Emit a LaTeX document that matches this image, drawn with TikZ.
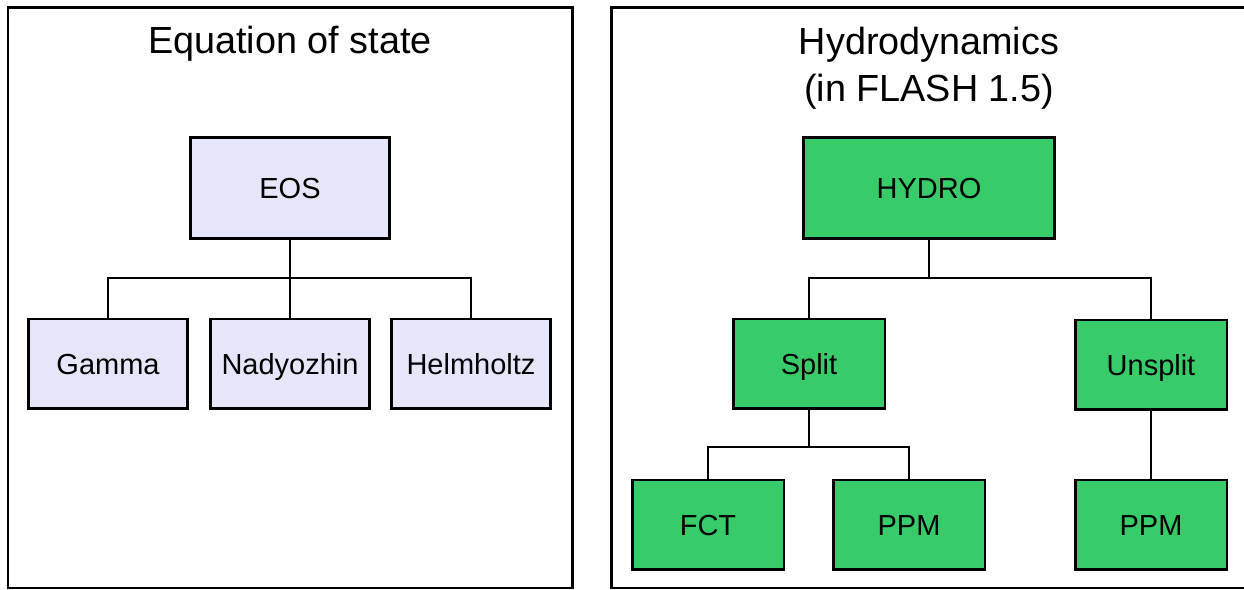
\documentclass[tikz,border=0pt]{standalone}
\usepackage{fontspec}
\setmainfont{Liberation Sans}
\definecolor{eosfill}{HTML}{E6E6FA}
\definecolor{hydrofill}{HTML}{37CB6A}
\tikzset{
  panel/.style={line width=1.7pt},
  title/.style={font=\fontsize{21.5}{26.6}\selectfont, align=center},
  unit/.style={draw, line width=1.7pt, inner sep=0pt, text height=11.8pt, text depth=0pt,
    font=\fontsize{16.5}{20}\selectfont},
  eosunit/.style={unit, fill=eosfill, minimum width=3.2cm, minimum height=1.8cm},
  hydrounit/.style={unit, fill=hydrofill, minimum width=3.04cm, minimum height=1.8cm},
  link/.style={line width=1.6pt}
}
\begin{document}
\begin{tikzpicture}[x=0.02cm, y=-0.02cm]
  \useasboundingbox (0,0) rectangle (1244,590);

  % panels
  \draw[panel] (8,8) rectangle (572,588);
  \draw[panel] (611,8) rectangle (1256,588);

  \node[title] (eostitle) at (290,44) {Equation of state};
  \node[title] (hydrotitle) at (929,68) {Hydrodynamics\\(in FLASH 1.5)};

  % equation of state tree
  \node[eosunit, minimum width=4cm, minimum height=2.02cm] (eos) at (290,188) {EOS};
  \node[eosunit] (gamma) at (108,364) {Gamma};
  \node[eosunit] (nadyozhin) at (290,364) {Nadyozhin};
  \node[eosunit] (helmholtz) at (471,364) {Helmholtz};
  \coordinate (eosbar) at (290,278);

  \draw[link] (eos) -- (nadyozhin);
  \draw[link] (gamma) |- (eosbar) -| (helmholtz);

  % hydrodynamics tree
  \node[hydrounit, minimum width=5.04cm, minimum height=2.02cm] (hydro) at (929,188) {HYDRO};
  \node[hydrounit] (split) at (809,364) {Split};
  \node[hydrounit] (unsplit) at (1151,365) {Unsplit};
  \node[hydrounit] (fct) at (708,525) {FCT};
  \node[hydrounit] (ppmsplit) at (909,525) {PPM};
  \node[hydrounit] (ppmunsplit) at (1151,525) {PPM};
  \coordinate (hydrobar) at (929,278);
  \coordinate (splitbar) at (809,447);

  \draw[link] (hydro) -- (hydrobar);
  \draw[link] (split) |- (hydrobar) -| (unsplit);
  \draw[link] (split) -- (splitbar);
  \draw[link] (fct) |- (splitbar) -| (ppmsplit);
  \draw[link] (unsplit) -- (ppmunsplit);
\end{tikzpicture}
\end{document}
